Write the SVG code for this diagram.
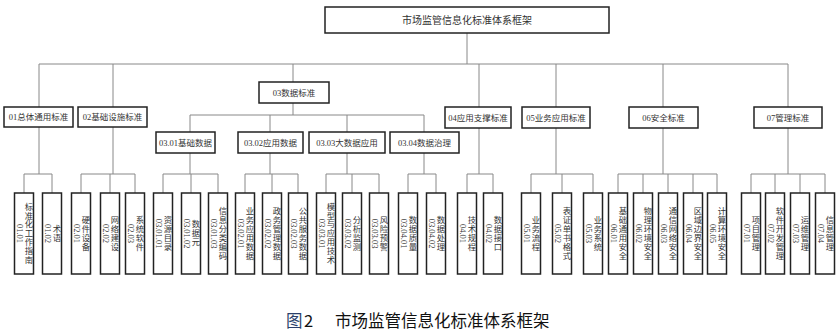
<svg xmlns="http://www.w3.org/2000/svg" width="839" height="331" viewBox="0 0 839 331">
<style>
.box{fill:#fff;stroke:#222;stroke-width:1.5}
.ln{fill:none;stroke:#888;stroke-width:1}
text{font-family:"Liberation Serif","Noto Sans CJK SC",serif;fill:#333}
.t{font-size:10px;text-anchor:middle;dominant-baseline:central}
.h{font-size:8.5px;text-anchor:middle;dominant-baseline:central}
.v{font-size:8.3px;writing-mode:vertical-rl;text-orientation:upright;text-anchor:middle;dominant-baseline:central;letter-spacing:0.6px}
.n{font-size:8.5px;text-anchor:middle;dominant-baseline:central}
.cap{font-family:"Noto Sans CJK SC",sans-serif;font-size:16.5px;fill:#111}
</style>
<rect width="839" height="331" fill="#fff"/>
<g id="connectors">
<path class="ln" d="M467 33V64M39 64H788M39 64V107M113 64V107M293 64V82M479 64V107M556 64V107M663 64V107M788 64V107"/>
<path class="ln" d="M293 103V115M190 115H424M190 115V132M270 115V132M347 115V132M424 115V132"/>
<path class="ln" d="M39 127V174M24 174H52M24 174V193M52 174V193"/>
<path class="ln" d="M113 127V174M81 174H135M81 174V193M110 174V193M135 174V193"/>
<path class="ln" d="M190 153V174M163 174H218M163 174V193M191 174V193M218 174V193"/>
<path class="ln" d="M270 153V174M245 174H298M245 174V193M272 174V193M298 174V193"/>
<path class="ln" d="M347 153V174M326 174H379M326 174V193M352 174V193M379 174V193"/>
<path class="ln" d="M424 153V174M408 174H436M408 174V193M436 174V193"/>
<path class="ln" d="M479 128V174M467 174H493M467 174V193M493 174V193"/>
<path class="ln" d="M556 128V174M531 174H593M531 174V193M562 174V193M593 174V193"/>
<path class="ln" d="M663 128V174M618 174H717M618 174V193M643 174V193M668 174V193M693 174V193M717 174V193"/>
<path class="ln" d="M788 128V174M751 174H825M751 174V193M775 174V193M800 174V193M825 174V193"/>
</g>
<g id="root"><rect class="box" x="325" y="7" width="284" height="26"/><text class="t" x="467" y="20">市场监管信息化标准体系框架</text></g>
<g id="n01"><rect class="box" x="4" y="107" width="69" height="20"/><text class="h" x="38.5" y="117">01总体通用标准</text></g>
<g id="n02"><rect class="box" x="78" y="107" width="69" height="20"/><text class="h" x="112.5" y="117">02基础设施标准</text></g>
<g id="n03"><rect class="box" x="259" y="82" width="70" height="21"/><text class="h" x="294" y="92.5">03数据标准</text></g>
<g id="n04"><rect class="box" x="445" y="107" width="66" height="21"/><text class="h" x="478" y="117.5">04应用支撑标准</text></g>
<g id="n05"><rect class="box" x="522" y="107" width="68" height="21"/><text class="h" x="556" y="117.5">05业务应用标准</text></g>
<g id="n06"><rect class="box" x="629" y="107" width="69" height="21"/><text class="h" x="663.5" y="117.5">06安全标准</text></g>
<g id="n07"><rect class="box" x="754" y="107" width="68" height="21"/><text class="h" x="788" y="117.5">07管理标准</text></g>
<g id="n0301"><rect class="box" x="156" y="132" width="59" height="21"/><text class="h" x="185.5" y="142.5">03.01基础数据</text></g>
<g id="n0302"><rect class="box" x="238" y="132" width="65" height="21"/><text class="h" x="270.5" y="142.5">03.02应用数据</text></g>
<g id="n0303"><rect class="box" x="309" y="132" width="76" height="21"/><text class="h" x="347" y="142.5">03.03大数据应用</text></g>
<g id="n0304"><rect class="box" x="390" y="132" width="69" height="21"/><text class="h" x="424.5" y="142.5">03.04数据治理</text></g>

<g id="n0101"><rect class="box" x="14.5" y="193" width="19" height="81"/><text class="v" x="27.5" y="233.5">标准化工作指南</text><text class="n" transform="translate(19.5 233.5) rotate(90)">01.01</text></g>
<g id="n0102"><rect class="box" x="42.5" y="193" width="19" height="81"/><text class="v" x="55.5" y="233.5">术语</text><text class="n" transform="translate(47.5 233.5) rotate(90)">01.02</text></g>
<g id="n0201"><rect class="box" x="71.5" y="193" width="19" height="81"/><text class="v" x="84.5" y="233.5">硬件设备</text><text class="n" transform="translate(76.5 233.5) rotate(90)">02.01</text></g>
<g id="n0202"><rect class="box" x="100.5" y="193" width="19" height="81"/><text class="v" x="113.5" y="233.5">网络建设</text><text class="n" transform="translate(105.5 233.5) rotate(90)">02.02</text></g>
<g id="n0203"><rect class="box" x="125.5" y="193" width="19" height="81"/><text class="v" x="138.5" y="233.5">系统软件</text><text class="n" transform="translate(130.5 233.5) rotate(90)">02.03</text></g>
<g id="n030101"><rect class="box" x="153.5" y="193" width="19" height="81"/><text class="v" x="166.5" y="233.5">资源目录</text><text class="n" transform="translate(158.5 233.5) rotate(90)">03.01.01</text></g>
<g id="n030102"><rect class="box" x="181.5" y="193" width="19" height="81"/><text class="v" x="194.5" y="233.5">数据元</text><text class="n" transform="translate(186.5 233.5) rotate(90)">03.01.02</text></g>
<g id="n030103"><rect class="box" x="208.5" y="193" width="19" height="81"/><text class="v" x="221.5" y="233.5">信息分类编码</text><text class="n" transform="translate(213.5 233.5) rotate(90)">03.01.03</text></g>
<g id="n030201"><rect class="box" x="235.5" y="193" width="19" height="81"/><text class="v" x="248.5" y="233.5">业务应用数据</text><text class="n" transform="translate(240.5 233.5) rotate(90)">03.02.01</text></g>
<g id="n030202"><rect class="box" x="262.5" y="193" width="19" height="81"/><text class="v" x="275.5" y="233.5">政务管理数据</text><text class="n" transform="translate(267.5 233.5) rotate(90)">03.02.02</text></g>
<g id="n030203"><rect class="box" x="288.5" y="193" width="19" height="81"/><text class="v" x="301.5" y="233.5">公共服务数据</text><text class="n" transform="translate(293.5 233.5) rotate(90)">03.02.03</text></g>
<g id="n030301"><rect class="box" x="316.5" y="193" width="19" height="81"/><text class="v" x="329.5" y="233.5">模型与应用技术</text><text class="n" transform="translate(321.5 233.5) rotate(90)">03.03.01</text></g>
<g id="n030302"><rect class="box" x="342.5" y="193" width="19" height="81"/><text class="v" x="355.5" y="233.5">分析监测</text><text class="n" transform="translate(347.5 233.5) rotate(90)">03.03.02</text></g>
<g id="n030303"><rect class="box" x="369.5" y="193" width="19" height="81"/><text class="v" x="382.5" y="233.5">风险预警</text><text class="n" transform="translate(374.5 233.5) rotate(90)">03.03.03</text></g>
<g id="n030401"><rect class="box" x="398.5" y="193" width="19" height="81"/><text class="v" x="411.5" y="233.5">数据质量</text><text class="n" transform="translate(403.5 233.5) rotate(90)">03.04.01</text></g>
<g id="n030402"><rect class="box" x="426.5" y="193" width="19" height="81"/><text class="v" x="439.5" y="233.5">数据处理</text><text class="n" transform="translate(431.5 233.5) rotate(90)">03.04.02</text></g>
<g id="n0401"><rect class="box" x="457.5" y="193" width="19" height="81"/><text class="v" x="470.5" y="233.5">技术规程</text><text class="n" transform="translate(462.5 233.5) rotate(90)">04.01</text></g>
<g id="n0402"><rect class="box" x="483.5" y="193" width="19" height="81"/><text class="v" x="496.5" y="233.5">数据接口</text><text class="n" transform="translate(488.5 233.5) rotate(90)">04.02</text></g>
<g id="n0501"><rect class="box" x="521.5" y="193" width="19" height="81"/><text class="v" x="534.5" y="233.5">业务流程</text><text class="n" transform="translate(526.5 233.5) rotate(90)">05.01</text></g>
<g id="n0502"><rect class="box" x="552.5" y="193" width="19" height="81"/><text class="v" x="565.5" y="233.5">表证单书格式</text><text class="n" transform="translate(557.5 233.5) rotate(90)">05.02</text></g>
<g id="n0503"><rect class="box" x="583.5" y="193" width="19" height="81"/><text class="v" x="596.5" y="233.5">业务系统</text><text class="n" transform="translate(588.5 233.5) rotate(90)">05.03</text></g>
<g id="n0601"><rect class="box" x="608.5" y="193" width="19" height="81"/><text class="v" x="621.5" y="233.5">基础通用安全</text><text class="n" transform="translate(613.5 233.5) rotate(90)">06.01</text></g>
<g id="n0602"><rect class="box" x="633.5" y="193" width="19" height="81"/><text class="v" x="646.5" y="233.5">物理环境安全</text><text class="n" transform="translate(638.5 233.5) rotate(90)">06.02</text></g>
<g id="n0603"><rect class="box" x="658.5" y="193" width="19" height="81"/><text class="v" x="671.5" y="233.5">通信网络安全</text><text class="n" transform="translate(663.5 233.5) rotate(90)">06.03</text></g>
<g id="n0604"><rect class="box" x="683.5" y="193" width="19" height="81"/><text class="v" x="696.5" y="233.5">区域边界安全</text><text class="n" transform="translate(688.5 233.5) rotate(90)">06.04</text></g>
<g id="n0605"><rect class="box" x="707.5" y="193" width="19" height="81"/><text class="v" x="720.5" y="233.5">计算环境安全</text><text class="n" transform="translate(712.5 233.5) rotate(90)">06.05</text></g>
<g id="n0701"><rect class="box" x="741.5" y="193" width="19" height="81"/><text class="v" x="754.5" y="233.5">项目管理</text><text class="n" transform="translate(746.5 233.5) rotate(90)">07.01</text></g>
<g id="n0702"><rect class="box" x="765.5" y="193" width="19" height="81"/><text class="v" x="778.5" y="233.5">软件开发管理</text><text class="n" transform="translate(770.5 233.5) rotate(90)">07.02</text></g>
<g id="n0703"><rect class="box" x="790.5" y="193" width="19" height="81"/><text class="v" x="803.5" y="233.5">运维管理</text><text class="n" transform="translate(795.5 233.5) rotate(90)">07.03</text></g>
<g id="n0704"><rect class="box" x="815.5" y="193" width="19" height="81"/><text class="v" x="828.5" y="233.5">信息管理</text><text class="n" transform="translate(820.5 233.5) rotate(90)">07.04</text></g>
<g id="caption"><text class="cap" x="286" y="327"><tspan fill="#2b3f6b">图</tspan><tspan x="304">2</tspan><tspan x="335">市场监管信息化标准体系框架</tspan></text></g>
</svg>
